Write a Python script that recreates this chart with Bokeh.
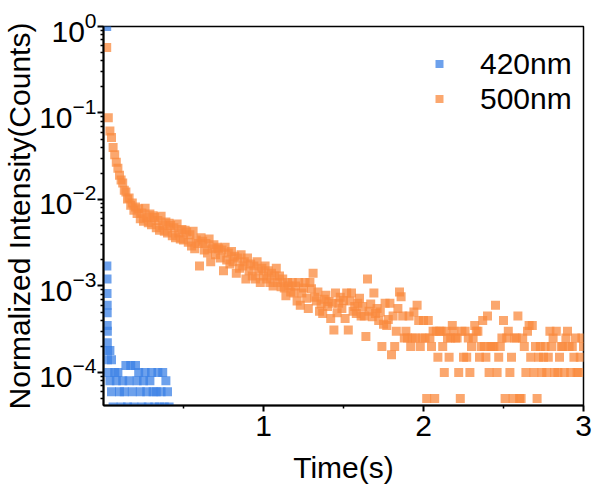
import numpy as np
from bokeh.plotting import figure
from bokeh.models import FixedTicker, Legend, LegendItem, ColumnDataSource, Range1d
from bokeh.embed import file_html
from bokeh.resources import INLINE

# ---------------- data ----------------
# 420nm emission decay (fast, collapses to noise floor)
t420 = [0.020, 0.021, 0.022, 0.022, 0.023, 0.023, 0.023, 0.024, 0.024, 0.025,
        0.040, 0.025, 0.050,
        0.03, 0.04, 0.05, 0.06, 0.07, 0.08, 0.09, 0.10, 0.11, 0.12,
        0.13, 0.14, 0.15, 0.16, 0.17, 0.18, 0.19, 0.20, 0.21, 0.22,
        0.23, 0.24, 0.25, 0.26, 0.27, 0.28, 0.29, 0.30, 0.31, 0.32,
        0.33, 0.34, 0.35, 0.36, 0.37, 0.38, 0.39, 0.40, 0.41]
i420 = [1.0, 1.7e-3, 1.2e-3, 8.2e-4, 6.0e-4, 4.9e-4, 3.5e-4, 3.0e-4, 2.2e-4, 1.8e-4,
        1.8e-4, 1.4e-4, 1.4e-4,
        1.0e-4, 8e-5, 6e-5, 4e-5, 1.0e-4, 8e-5, 1.0e-4, 6e-5, 4e-5, 8e-5,
        6e-5, 1.2e-4, 4e-5, 8e-5, 1.2e-4, 6e-5, 4e-5, 1.2e-4, 8e-5, 1.0e-4,
        6e-5, 4e-5, 8e-5, 1.0e-4, 6e-5, 4e-5, 8e-5, 1.0e-4, 6e-5, 4e-5,
        6e-5, 1.0e-4, 4e-5, 6e-5, 1.0e-4, 4e-5, 8e-5, 6e-5, 4e-5]

# 500nm emission decay, sampled every 0.01 s from 0.02 s to 3.00 s
t500 = np.round(np.arange(0.02, 3.0001, 0.01), 2)
i500 = [
    0.57, 0.088, 0.062, 0.052, 0.040, 0.033, 0.027, 0.023, 0.019, 0.0168,
    0.0155, 0.0128, 0.0122, 0.0101, 0.0104, 0.0086, 0.0091, 0.0075, 0.0082, 0.0069,
    0.0078, 0.0060, 0.0070, 0.0056, 0.0079, 0.0062, 0.0054, 0.0068, 0.0051, 0.0065,
    0.0062, 0.0047, 0.0057, 0.0044, 0.0064, 0.0050, 0.0043, 0.0055, 0.0041, 0.0053,
    0.0050, 0.0038, 0.0047, 0.0036, 0.0052, 0.0041, 0.0035, 0.0045, 0.0034, 0.0044,
    0.0042, 0.0032, 0.0039, 0.0029, 0.0043, 0.0027, 0.0034, 0.0031, 0.0017, 0.0036,
    0.0033, 0.0026, 0.0031, 0.0024, 0.0035, 0.0019, 0.0027, 0.0030, 0.0023, 0.0028,
    0.0027, 0.0021, 0.0026, 0.0015, 0.0028, 0.0020, 0.0024, 0.0018, 0.0025, 0.0019,
    0.0022, 0.0014, 0.0021, 0.0016, 0.0023, 0.0017, 0.0019, 0.0012, 0.0021, 0.0015,
    0.0018, 0.0013, 0.0017, 0.0012, 0.0019, 0.0015, 0.0011, 0.0016, 0.0013, 0.0017,
    0.0012, 0.0015, 0.0011, 0.0014, 0.0010, 0.0013, 0.0016, 0.0011, 0.0013, 0.00098,
    0.0012, 0.00095, 0.00077, 0.0011, 0.0010, 0.00085, 0.0011, 0.00083, 0.0010, 0.00067,
    0.0011, 0.00060, 0.00083, 0.00095, 0.0011, 0.00072, 0.00055, 0.0011, 0.00093, 0.0014,
    0.00074, 0.00067, 0.00085, 0.00051, 0.00062, 0.00048, 0.00070, 0.00078, 0.00058, 0.00066,
    0.00042, 0.00063, 0.00031, 0.00083, 0.00049, 0.00063, 0.00074, 0.00055, 0.00068, 0.00042,
    0.00083, 0.00031, 0.00067, 0.00083, 0.00051, 0.00058, 0.00048, 0.00063, 0.00072, 0.00045,
    0.00058, 0.00045, 0.00026, 0.0012, 0.00051, 0.00062, 0.00044, 0.00083, 0.00048, 0.00055,
    0.00040, 0.00050, 0.00020, 0.00036, 0.00063, 0.00035, 0.00041, 0.00063, 0.00016, 0.00045,
    2e-4, 3e-4, 5.5e-4, 8.5e-4, 7.5e-4, 4.5e-4, 2.5e-4, 3e-4, 2.5e-4, 4.5e-4,
    2e-4, 2.5e-4, 5e-4, 2.5e-4, 6e-4, 4e-4, 2e-4, 2.5e-4, 4e-4, 2.5e-4,
    5e-5, 4e-4, 2.5e-4, 2e-4, 3e-4, 5e-5, 3e-4, 1.5e-4, 3e-4, 3e-4,
    2e-4, 1e-4, 3e-4, 2.5e-4, 1.5e-4, 2.5e-4, 3.5e-4, 3e-4, 2.5e-4, 2.5e-4,
    1e-4, 5e-5, 3e-4, 1.5e-4, 3e-4, 1.5e-4, 2.5e-4, 1e-4, 2e-4, 2.5e-4,
    3.5e-4, 3e-4, 3e-4, 1.5e-4, 2e-4, 4e-4, 2e-4, 1.5e-4, 4.5e-4, 1e-4,
    2e-4, 2e-4, 2e-4, 6e-4, 1e-4, 1.5e-4, 2e-4, 2.5e-4, 4e-4, 5e-5,
    2.5e-4, 3e-4, 1e-4, 1.5e-4, 5e-5, 2.5e-4, 2.5e-4, 4.5e-4, 5e-5, 5e-5,
    2.5e-4, 2e-4, 1e-4, 3e-4, 3.5e-4, 1.5e-4, 3.5e-4, 1e-4, 2e-4, 5e-5,
    1.5e-4, 2e-4, 1e-4, 1.5e-4, 2e-4, 1e-4, 1.5e-4, 3e-4, 2e-4, 2.5e-4,
    1e-4, 3e-4, 1e-4, 1.5e-4, 2e-4, 2e-4, 1e-4, 2.5e-4, 3e-4, 2e-4,
    1e-4, 2e-4, 1.5e-4, 2.5e-4, 1e-4, 1e-4, 1.5e-4, 2.5e-4, 2e-4,
]

labels = ["420nm", "500nm"]
colors = ["#3C82E6", "#FA893D"]

x_ticks = [1, 2, 3]
x_minor = [0.5, 1.5, 2.5]
y_ticks = [1e-4, 1e-3, 1e-2, 1e-1, 1.0]
y_minor = [k * 10.0 ** e for e in range(-5, 0) for k in range(2, 10)]

FONT = "Liberation Sans"
FS = "30px"

# ---------------- figure ----------------
p = figure(width=593, height=491, y_axis_type="log",
           x_range=Range1d(0, 3), y_range=Range1d(4.15e-5, 1.0),
           output_backend="svg", toolbar_location=None,
           min_border_left=103, min_border_right=10,
           min_border_top=26, min_border_bottom=86)

p.xgrid.visible = False
p.ygrid.visible = False
p.outline_line_color = "black"
p.outline_line_width = 1.5
p.background_fill_color = "white"
p.border_fill_color = "white"

src420 = ColumnDataSource(dict(t=t420, v=i420))
src500 = ColumnDataSource(dict(t=list(t500), v=i500))

r1 = p.scatter("t", "v", source=src420, marker="square", size=9,
               fill_color=colors[0], fill_alpha=0.75, line_color=None)
r2 = p.scatter("t", "v", source=src500, marker="square", size=9,
               fill_color=colors[1], fill_alpha=0.75, line_color=None)

for ax in (p.xaxis[0], p.yaxis[0]):
    ax.axis_line_width = 2
    ax.axis_line_color = "black"
    ax.major_tick_line_width = 2
    ax.minor_tick_line_width = 1.5
    ax.major_tick_in = 0
    ax.major_tick_out = 6
    ax.minor_tick_in = 0
    ax.minor_tick_out = 3
    ax.major_label_text_font = FONT
    ax.major_label_text_font_size = FS
    ax.major_label_text_color = "black"
    ax.axis_label_text_font = FONT
    ax.axis_label_text_font_size = FS
    ax.axis_label_text_font_style = "normal"
    ax.axis_label_text_color = "black"

p.xaxis.ticker = FixedTicker(ticks=x_ticks, minor_ticks=x_minor)
p.yaxis.ticker = FixedTicker(ticks=y_ticks, minor_ticks=y_minor)
p.xaxis.axis_label = "Time(s)"
p.yaxis.axis_label = "Normalized Intensity(Counts)"
p.xaxis.major_label_standoff = 4
p.yaxis.major_label_standoff = 1
p.xaxis.axis_label_standoff = 12
p.yaxis.axis_label_standoff = 0

legend = Legend(items=[LegendItem(label=labels[0], renderers=[r1]),
                       LegendItem(label=labels[1], renderers=[r2])],
                location=(326, 289), border_line_color=None,
                background_fill_alpha=0, padding=10, spacing=0,
                glyph_width=20, glyph_height=35, label_height=35,
                label_standoff=31, label_text_font=FONT,
                label_text_font_size=FS, label_text_color="black")
p.add_layout(legend)

open("out.html", "w").write(file_html(p, INLINE))
